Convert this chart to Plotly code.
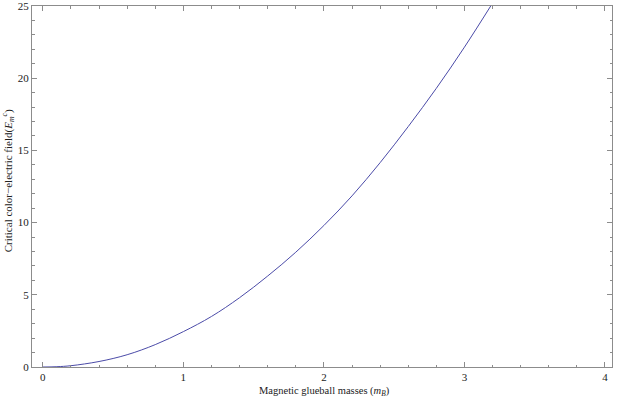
import plotly.graph_objects as go

# values
masses = [0.0, 0.1, 0.2, 0.4, 0.6, 0.8, 1.0, 1.2, 1.4, 1.6, 1.8, 2.0, 2.2, 2.4, 2.6, 2.8, 3.0, 3.2]
field = [0.0, 0.02, 0.09, 0.38, 0.85, 1.55, 2.45, 3.5, 4.8, 6.3, 7.95, 9.8, 11.85, 14.15, 16.65, 19.3, 22.15, 25.2]

x_ticks = [0, 1, 2, 3, 4]
y_ticks = [0, 5, 10, 15, 20, 25]

font = dict(family="Liberation Serif", size=11, color="#222")
frame = "#8c8c8c"

fig = go.Figure()
fig.add_trace(go.Scatter(
    x=masses, y=field, mode="lines", line_shape="spline",
    line=dict(color="#4b4ba8", width=1), showlegend=False,
))

axis_common = dict(
    showline=True, linecolor=frame, linewidth=1, mirror="allticks",
    ticks="inside", ticklen=5, tickcolor=frame, tickwidth=1,
    showgrid=False, zeroline=False, tickfont=font,
    automargin=False, ticklabeloverflow="allow",
)

fig.update_xaxes(
    range=[-0.077, 4.05], tickvals=x_ticks,
    minor=dict(dtick=0.2, ticks="inside", ticklen=2.5, tickcolor=frame, showgrid=False),
    **axis_common,
)
fig.update_yaxes(
    range=[0, 25], tickvals=y_ticks,
    minor=dict(dtick=1, ticks="inside", ticklen=2.5, tickcolor=frame, showgrid=False),
    **axis_common,
)

# axis titles placed as annotations to match the reference positions
fig.add_annotation(
    text="Magnetic glueball masses (<i>m</i><sub><i>B</i></sub>)",
    xref="paper", yref="paper", x=0.505, y=-0.069,
    xanchor="center", yanchor="middle", showarrow=False, font=dict(font, size=10.5),
)
fig.add_annotation(
    text="Critical color\u2212electric field(<i>E</i><sub><i>m</i></sub><sup><i>c</i></sup>)",
    xref="paper", yref="paper", x=-0.041, y=0.515, textangle=-90,
    xanchor="center", yanchor="middle", showarrow=False, font=font,
)

fig.update_layout(
    width=617, height=403,
    margin=dict(l=32, r=5, t=6, b=36),
    plot_bgcolor="white", paper_bgcolor="white",
    font=font,
)

# drop the browser's default body margin so the figure sits at the window corner
fig.write_html("out.html", config={"displayModeBar": False},
               post_script="document.body.style.margin='0';")
